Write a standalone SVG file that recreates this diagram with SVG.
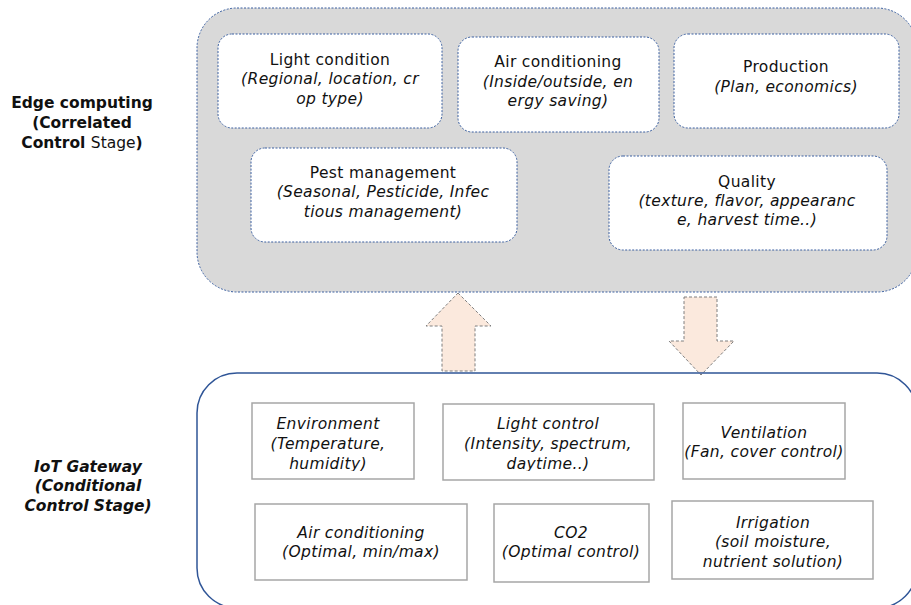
<svg xmlns="http://www.w3.org/2000/svg" width="911" height="605" viewBox="0 0 911 605">
<style>
.t{font-family:"DejaVu Sans","Liberation Sans",sans-serif;font-size:15.5px;fill:#111;text-anchor:middle;letter-spacing:0.35px}
.i{font-style:italic}
.lbl{font-family:"DejaVu Sans","Liberation Sans",sans-serif;font-size:15.5px;font-weight:bold;fill:#111;text-anchor:middle}
.ebox{fill:#fff;stroke:#3a5fa0;stroke-width:1;stroke-dasharray:2 1.5}
.gbox{fill:#fff;stroke:#a6a6a6;stroke-width:1.5}
.arrow{fill:#fbe9dd;stroke:#7f7f7f;stroke-width:1;stroke-dasharray:3 2}
</style>
<defs>
<clipPath id="clipTop"><rect x="0" y="0" width="911" height="471"/></clipPath>
</defs>
<rect width="911" height="605" fill="#fff"/>

<g id="edge-label">
<text class="lbl" x="82" y="108">Edge computing</text>
<text class="lbl" x="82" y="128">(Correlated</text>
<text class="lbl" x="82" y="148">Control <tspan font-weight="normal">Stage</tspan>)</text>
</g>
<g id="iot-label">
<text class="lbl" font-style="italic" x="88" y="472">IoT Gateway</text>
<text class="lbl" font-style="italic" x="88" y="491">(Conditional</text>
<text class="lbl" font-style="italic" x="88" y="511">Control Stage)</text>
</g>

<g id="edge-container">
<rect x="197" y="8" width="720" height="284" rx="40" ry="40" fill="#d9d9d9" stroke="#3a5fa0" stroke-width="1" stroke-dasharray="2 1.5"/>
</g>

<g id="light-condition">
<rect class="ebox" x="218" y="34" width="224" height="94" rx="14"/>
<text class="t" x="330" y="65">Light condition</text>
<text class="t i" x="330" y="84">(Regional, location, cr</text>
<text class="t i" x="330" y="104">op type)</text>
</g>
<g id="air-conditioning-edge">
<rect class="ebox" x="458" y="37" width="201" height="95" rx="14"/>
<text class="t" x="558" y="67">Air conditioning</text>
<text class="t i" x="558" y="87">(Inside/outside, en</text>
<text class="t i" x="558" y="106">ergy saving)</text>
</g>
<g id="production">
<rect class="ebox" x="674" y="34" width="225" height="94" rx="14"/>
<text class="t" x="786" y="72">Production</text>
<text class="t i" x="786" y="92">(Plan, economics)</text>
</g>
<g id="pest-management">
<rect class="ebox" x="251" y="148" width="266" height="94" rx="14"/>
<text class="t" x="383" y="178">Pest management</text>
<text class="t i" x="383" y="197">(Seasonal, Pesticide, Infec</text>
<text class="t i" x="383" y="217">tious management)</text>
</g>
<g id="quality">
<rect class="ebox" x="609" y="156" width="278" height="94" rx="14"/>
<text class="t" x="747" y="187">Quality</text>
<text class="t i" x="747" y="206">(texture, flavor, appearanc</text>
<text class="t i" x="747" y="225">e, harvest time..)</text>
</g>

<g id="connectors">
<path class="arrow" d="M458,293 L491,326 L475,326 L475,371 L442,371 L442,326 L426,326 Z"/>
<path class="arrow" d="M684,297 L717,297 L717,341 L734,341 L701,375 L669,341 L684,341 Z"/>
</g>

<g id="iot-container">
<rect x="197" y="373" width="720" height="235" rx="40" ry="40" fill="none" stroke="#2f5597" stroke-width="1.5"/>
</g>

<g id="environment">
<rect class="gbox" x="252" y="403" width="162" height="76"/>
<g clip-path="url(#clipTop)">
<text class="t i" x="328" y="429">Environment</text>
<text class="t i" x="328" y="449">(Temperature,</text>
<text class="t i" x="328" y="469">humidity)</text>
</g>
</g>
<g id="light-control">
<rect class="gbox" x="443" y="404" width="211" height="76"/>
<g clip-path="url(#clipTop)">
<text class="t i" x="548" y="429">Light control</text>
<text class="t i" x="548" y="449">(Intensity, spectrum,</text>
<text class="t i" x="548" y="469">daytime..)</text>
</g>
</g>
<g id="ventilation">
<rect class="gbox" x="683" y="403" width="162" height="76"/>
<text class="t i" x="764" y="438">Ventilation</text>
<text class="t i" x="764" y="457">(Fan, cover control)</text>
</g>
<g id="air-conditioning-iot">
<rect class="gbox" x="255" y="504" width="212" height="76"/>
<text class="t i" x="361" y="538">Air conditioning</text>
<text class="t i" x="361" y="557">(Optimal, min/max)</text>
</g>
<g id="co2">
<rect class="gbox" x="494" y="504" width="155" height="78"/>
<text class="t i" x="571" y="538">CO2</text>
<text class="t i" x="571" y="557">(Optimal control)</text>
</g>
<g id="irrigation">
<rect class="gbox" x="672" y="501" width="201" height="78"/>
<text class="t i" x="773" y="528">Irrigation</text>
<text class="t i" x="773" y="547">(soil moisture,</text>
<text class="t i" x="773" y="567">nutrient solution)</text>
</g>
</svg>
